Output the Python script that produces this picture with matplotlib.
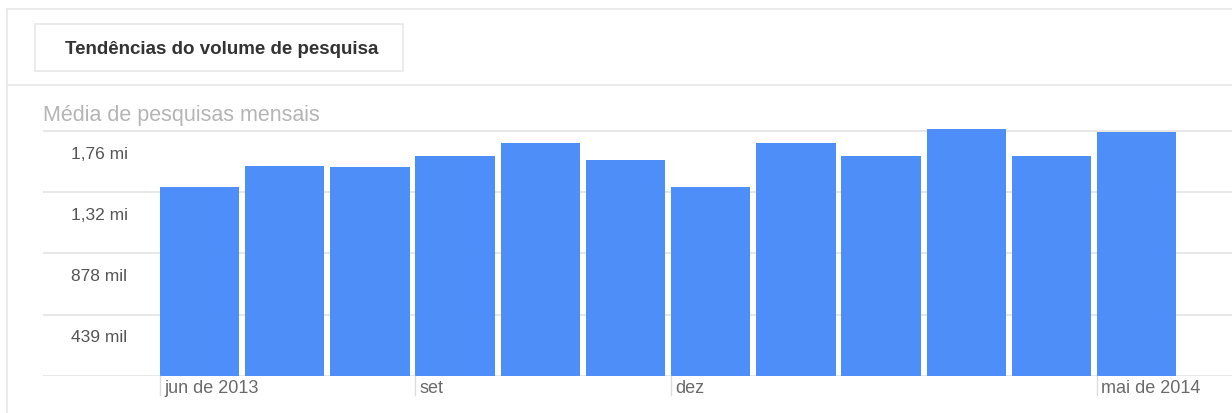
#!/usr/bin/env python3
"""
Tendencias do volume de pesquisa - monthly search volume bar chart
"""

import matplotlib
matplotlib.use('Agg')
import matplotlib.pyplot as plt
from matplotlib.patches import Rectangle
from matplotlib.lines import Line2D
import matplotlib.transforms as mtransforms

# data
months = ['jun de 2013', 'jul', 'ago', 'set', 'out', 'nov', 'dez',
          'jan', 'fev', 'mar', 'abr', 'mai de 2014']
searches = [1358000, 1503000, 1495000, 1577000, 1670000, 1548000, 1357000,
            1672000, 1574000, 1770000, 1579000, 1747000]
grid_values = [0, 439000, 878000, 1317000, 1756000]
grid_labels = ['', '439 mil', '878 mil', '1,32 mi', '1,76 mi']
labelled_months = ['jun de 2013', 'set', 'dez', 'mai de 2014']

W, H = 1232, 414
plt.rcParams['font.family'] = ['Liberation Sans', 'DejaVu Sans']

fig = plt.figure(figsize=(W / 100, H / 100), dpi=100)
fig.patch.set_facecolor('white')


def fx(px):
    return px / W


def fy(py):
    return 1 - py / H


# card frame, separator and title box
card = '#e8e8e8'
fig.add_artist(Line2D([fx(7), fx(7)], [fy(10), 0], color=card, lw=1.2))
fig.add_artist(Line2D([fx(7), 1], [fy(10), fy(10)], color=card, lw=1.2))
fig.add_artist(Line2D([fx(7), 1], [fy(86), fy(86)], color=card, lw=1.2))
fig.add_artist(Rectangle((fx(35), fy(72)), fx(403) - fx(35), fy(25) - fy(72),
                         transform=fig.transFigure, facecolor='white',
                         edgecolor=card, lw=1.2))
fig.text(fx(65), fy(49), 'Tendências do volume de pesquisa', fontsize=13.5,
         fontweight='bold', color='#333333', va='center', ha='left')
fig.text(fx(43), fy(115), 'Média de pesquisas mensais', fontsize=15.5,
         color='#b5b5b5', va='center', ha='left')

# plot area
left_px, right_px, top_px, base_px = 43, 1232, 125, 377
ax = fig.add_axes([fx(left_px), fy(base_px), fx(right_px - left_px),
                   (base_px - top_px) / H])
px_per_unit = 7167.0
ax.set_ylim(0, (base_px - top_px) * px_per_unit)
pitch = 85.2
first_center = 199.5
ax.set_xlim((left_px - first_center) / pitch, (right_px - first_center) / pitch)

for v in grid_values:
    ax.axhline(v, color='#e3e3e3', lw=1.2, zorder=0)

x = list(range(len(months)))
ax.bar(x, searches, width=0.93, color='#4d8ef8', zorder=2)

# y labels sit in the band below each gridline
for v, lab in zip(grid_values, grid_labels):
    if lab:
        ax.annotate(lab, xy=((71 - left_px) / (right_px - left_px), v),
                    xycoords=('axes fraction', 'data'), xytext=(0, -16),
                    textcoords='offset points', fontsize=12.5, color='#555555',
                    va='center', ha='left')

# x labels with little tick marks at month start
trans = mtransforms.blended_transform_factory(ax.transData, ax.transAxes)
for i, m in enumerate(months):
    if m in labelled_months:
        edge = i - 0.465
        ax.plot([edge, edge], [0, -0.075], transform=trans, color='#dddddd',
                lw=1, clip_on=False)
        ax.annotate(m, xy=(edge, 0), xycoords=trans, xytext=(3, -8),
                    textcoords='offset points', fontsize=13, color='#6a6a6a',
                    va='center', ha='left')

ax.set_xticks([])
ax.set_yticks([])
for s in ax.spines.values():
    s.set_visible(False)
ax.patch.set_alpha(0)

fig.savefig('out.png', dpi=100)
plt.close()
